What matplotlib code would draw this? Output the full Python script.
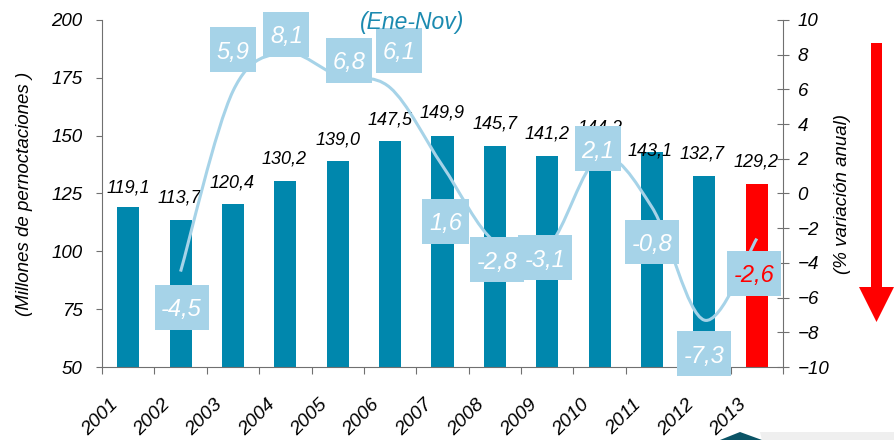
import numpy as np
import matplotlib.pyplot as plt
from matplotlib.path import Path
from matplotlib.patches import PathPatch, Polygon

plt.rcParams['font.family'] = ['Liberation Sans', 'DejaVu Sans']
plt.rcParams['font.style'] = 'italic'

# data
years = ['2001', '2002', '2003', '2004', '2005', '2006', '2007',
         '2008', '2009', '2010', '2011', '2012', '2013']
pernoctaciones = [119.1, 113.7, 120.4, 130.2, 139.0, 147.5, 149.9,
                  145.7, 141.2, 144.2, 143.1, 132.7, 129.2]
var_years = years[1:]
variacion = [-4.5, 5.9, 8.1, 6.8, 6.1, 1.6, -2.8, -3.1, 2.1, -0.8, -7.3, -2.6]

# label placement (pixels, relative to the point)
bar_lbl_off = [(0, 15), (-1, 17), (-1, 17), (-1, 18), (0, 17), (0, 17), (0, 18),
               (0, 17), (0, 18), (0, 17), (-2, -4), (-2, 17), (-1, 17)]
var_lbl_off = [(1, -38), (0, 39), (1, 16), (11, 13), (9, 35), (3, -58),
               (2, -20), (-2, -13), (-2, 6), (0, -37), (0, -36), (-3, -37)]

BAR = '#0087ad'
LIGHT = '#a6d3e8'
GREY = '#707070'


def fmt(v):
    return f'{v:.1f}'.replace('.', ',')


def smooth_path(xs, ys):
    # excel-like smoothed line as bezier segments through the points
    pts = np.column_stack([xs, ys]).astype(float)
    n = len(pts)
    verts = [pts[0]]
    codes = [Path.MOVETO]
    for i in range(n - 1):
        p0 = pts[i - 1] if i > 0 else pts[i]
        p1, p2 = pts[i], pts[i + 1]
        p3 = pts[i + 2] if i + 2 < n else pts[i + 1]
        verts += [p1 + (p2 - p0) / 6, p2 - (p3 - p1) / 6, p2]
        codes += [Path.CURVE4] * 3
    return Path(verts, codes)


def label_box(x0, y0, width, height, mutation_size):
    # taller than wide padding, like the excel data labels
    px = 0.28 * mutation_size
    h = 1.9 * mutation_size
    cy = y0 + height / 2 + 0.1 * mutation_size
    xa, xb = x0 - px, x0 + width + px
    ya, yb = cy - h / 2, cy + h / 2
    return Path([(xa, ya), (xb, ya), (xb, yb), (xa, yb), (xa, ya)], closed=True)


fig = plt.figure(figsize=(8.94, 4.40), dpi=100)
ax = fig.add_axes([102 / 894, 73 / 440, 681 / 894, 347 / 440])

x = np.arange(len(years))
colors = [BAR] * (len(years) - 1) + ['#ff0000']
ax.bar(x, pernoctaciones, width=0.42, color=colors, zorder=2)
ax.set_xlim(-0.5, len(years) - 0.5)
ax.set_ylim(50, 200)
ax.set_yticks(np.arange(50, 201, 25))
ax.set_xticks(np.arange(-0.5, len(years), 1))
ax.set_xticklabels([])

for i, v in enumerate(pernoctaciones):
    ax.annotate(fmt(v), (x[i], v), xytext=bar_lbl_off[i], textcoords='offset pixels',
                ha='center', va='baseline', fontsize=13, color='black')

for i, y in enumerate(years):
    ax.annotate(y, (x[i], 0), xycoords=('data', 'axes fraction'),
                xytext=(-19, -29), textcoords='offset pixels',
                rotation=45, rotation_mode='anchor', ha='right', va='top',
                fontsize=14)

for s in ['top', 'right']:
    ax.spines[s].set_visible(False)
for s in ['left', 'bottom']:
    ax.spines[s].set_color(GREY)
ax.tick_params(axis='y', direction='out', length=4, color=GREY, pad=10, labelsize=13.5)
ax.tick_params(axis='x', direction='out', length=5, color=GREY)
ax.set_ylabel('(Millones de pernoctaciones )', fontsize=13.5)
ax.yaxis.set_label_coords(-0.101, 0.5)

ax2 = ax.twinx()
ax2.set_ylim(-10, 10)
ax2.set_yticks(np.arange(-10, 11, 2))
for s in ['top', 'left', 'bottom']:
    ax2.spines[s].set_visible(False)
ax2.spines['right'].set_color(GREY)
ax2.tick_params(axis='y', direction='inout', length=9, color=GREY, pad=6, labelsize=13.5)
ax2.set_ylabel('(% variación anual)', fontsize=13.5)
ax2.yaxis.set_label_coords(1.0749, 0.5)

xv = np.arange(1, len(years))
ax2.add_patch(PathPatch(smooth_path(xv, variacion), facecolor='none',
                        edgecolor=LIGHT, lw=2.2, zorder=2))

for i, v in enumerate(variacion):
    ax2.annotate(fmt(v), (xv[i], v), xytext=var_lbl_off[i], textcoords='offset pixels',
                 ha='center', va='center', fontsize=17,
                 color='#ff0000' if i == len(variacion) - 1 else 'white',
                 bbox=dict(boxstyle=label_box, fc=LIGHT, ec='none'), zorder=5)

fig.text(412 / 894, 1 - 23 / 440, '(Ene-Nov)', ha='center', va='center',
         fontsize=16.5, color='#1b8ab0')

# red arrow at the right
fig.patches.append(Polygon([(8.71, 3.97), (8.82, 3.97), (8.82, 1.53), (8.94, 1.53),
                            (8.765, 1.18), (8.59, 1.53), (8.71, 1.53)],
                           closed=True, fc='#ff0000', ec='none',
                           transform=fig.dpi_scale_trans, figure=fig))
# bits of the slide decoration at the bottom
fig.patches.append(Polygon([(7.62, 0.0), (7.60, 0.08), (8.94, 0.08), (8.94, 0.0)],
                           closed=True, fc='#efefef', ec='none',
                           transform=fig.dpi_scale_trans, figure=fig))
fig.patches.append(Polygon([(7.20, 0.0), (7.40, 0.08), (7.62, 0.0)],
                           closed=True, fc='#0b5466', ec='none',
                           transform=fig.dpi_scale_trans, figure=fig))

fig.savefig('out.png', dpi=100)
